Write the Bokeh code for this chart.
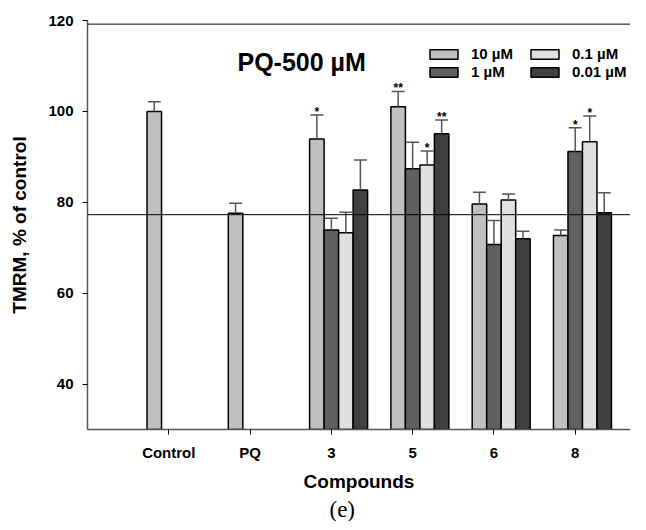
import math
from bokeh.plotting import figure
from bokeh.models import (Range1d, FixedTicker, Span, Label, Legend, LegendItem,
                          ColumnDataSource, Whisker, TeeHead, Title)
from bokeh.core.properties import value
from bokeh.embed import file_html
from bokeh.resources import INLINE

nan = float("nan")

# ---- data ----
groups = ["Control", "PQ", "3", "5", "6", "8"]
series = ["10 µM", "1 µM", "0.1 µM", "0.01 µM"]
colors = ["#c0c0c0", "#606060", "#e0e0e0", "#404040"]

mean_10 = [100.0, 77.6, 93.9, 101.0, 79.6, 72.7]
err_10 = [2.1, 2.2, 5.3, 3.4, 2.6, 1.2]
stars_10 = ["", "", "*", "**", "", ""]

mean_1 = [nan, nan, 73.9, 87.4, 70.7, 91.2]
err_1 = [nan, nan, 2.6, 5.8, 5.3, 5.2]
stars_1 = ["", "", "", "", "", "*"]

mean_01 = [nan, nan, 73.3, 88.2, 80.5, 93.3]
err_01 = [nan, nan, 4.5, 3.1, 1.3, 5.7]
stars_01 = ["", "", "", "*", "", "*"]

mean_001 = [nan, nan, 82.7, 95.1, 72.0, 77.7]
err_001 = [nan, nan, 6.6, 3.0, 1.6, 4.4]
stars_001 = ["", "", "", "**", "", ""]

pq_level = 77.27
top_line = 119.2

y_ticks = [40, 60, 80, 100, 120]

all_means = [mean_10, mean_1, mean_01, mean_001]
all_errs = [err_10, err_1, err_01, err_001]
all_stars = [stars_10, stars_1, stars_01, stars_001]

FONT = "Liberation Sans"
bar_w = 0.1784

p = figure(frame_width=543, frame_height=409, output_backend="svg", toolbar_location=None,
           x_range=Range1d(-1, 5.68), y_range=Range1d(30, 120),
           min_border_left=87, min_border_right=0, min_border_top=20,
           min_border_bottom=85)
p.outline_line_color = None
p.grid.visible = False
p.background_fill_color = "white"

legend_items = []
for k in range(4):
    xs, tops, hi, st = [], [], [], []
    for i in range(len(groups)):
        m = all_means[k][i]
        if math.isnan(m):
            continue
        xs.append(i + (k - 1) * bar_w)
        tops.append(m)
        hi.append(m + all_errs[k][i])
        st.append(all_stars[k][i])
    src = ColumnDataSource(dict(x=xs, top=tops, hi=hi, stars=st))
    r = p.vbar(x="x", top="top", bottom=0, width=bar_w, source=src,
               fill_color=colors[k], line_color="black", line_width=1.5)
    w = Whisker(base="x", lower="top", upper="hi", source=src, dimension="height",
                line_color="#555555", line_width=1.5,
                upper_head=TeeHead(size=13, line_color="#555555", line_width=1.5),
                lower_head=None, level="glyph")
    p.add_layout(w)
    p.text(x="x", y="hi", text="stars", source=src, text_align="center",
           text_baseline="alphabetic", y_offset=-3, text_font=value(FONT),
           text_font_style="bold", text_font_size="12px", text_color="black")
    legend_items.append(LegendItem(label=series[k], renderers=[r]))

# reference lines
p.add_layout(Span(location=pq_level, dimension="width", line_color="black", line_width=1))
p.add_layout(Span(location=top_line, dimension="width", line_color="black", line_width=1))

# legend
legend = Legend(items=legend_items, ncols=2, location=(339, 349),
                glyph_width=35, glyph_height=12, label_height=12, label_width=55,
                label_standoff=10, spacing=1, padding=0, margin=0,
                border_line_color=None, background_fill_alpha=0,
                label_text_font=FONT, label_text_font_style="bold",
                label_text_font_size="15px", label_text_color="black")
p.add_layout(legend, "center")

# inner title
p.add_layout(Label(x=0.845, y=110.8, text="PQ-500 µM", text_font=FONT,
                   text_font_style="bold", text_font_size="25px", text_color="black",
                   text_align="left", text_baseline="alphabetic"))

# axes
p.xaxis.ticker = FixedTicker(ticks=list(range(len(groups))))
p.xaxis.major_label_overrides = {i: g for i, g in enumerate(groups)}
p.yaxis.ticker = FixedTicker(ticks=y_ticks)
p.xaxis.axis_label = "Compounds"
p.yaxis.axis_label = "TMRM, % of control"
for ax in (p.xaxis, p.yaxis):
    ax.axis_line_color = "#555555"
    ax.axis_line_width = 1.5
    ax.major_tick_line_color = "black"
    ax.major_tick_out = 5
    ax.major_tick_in = 0
    ax.minor_tick_line_color = None
    ax.major_label_text_font = FONT
    ax.major_label_text_font_style = "bold"
    ax.major_label_text_font_size = "15px"
    ax.major_label_text_color = "black"
    ax.axis_label_text_font = FONT
    ax.axis_label_text_font_style = "bold"
    ax.axis_label_text_font_size = "19px"
    ax.axis_label_text_color = "black"
p.xaxis.major_label_standoff = 9
p.xaxis.axis_label_standoff = 7
p.yaxis.major_label_standoff = 9
p.yaxis.axis_label_standoff = 15

# panel letter below the axis
p.add_layout(Title(text="(e)", align="left", offset=242, standoff=0,
                   text_font="Liberation Serif", text_font_style="normal",
                   text_font_size="23px", text_color="black"), "below")

open("out.html", "w").write(file_html(p, INLINE))
